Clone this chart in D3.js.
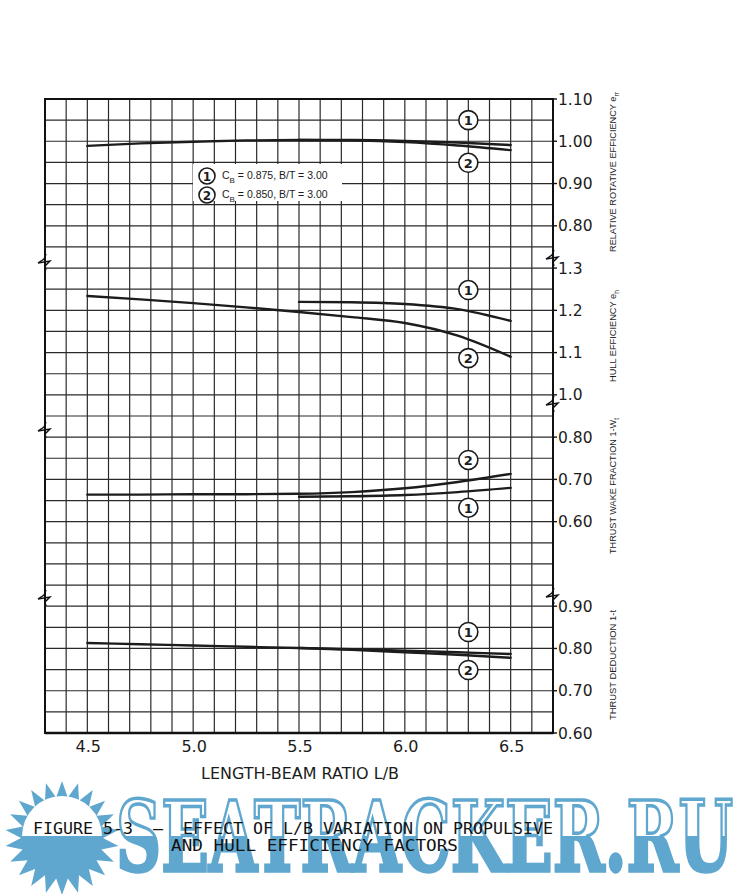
<!DOCTYPE html>
<html><head><meta charset="utf-8">
<script src="https://cdn.jsdelivr.net/npm/d3@7"></script>
<style>body{margin:0;background:#fff}svg{display:block}</style>
</head><body><svg id="c" width="750" height="894"></svg>
<script>
// ---------------- data ----------------
const lbTicks = [4.5, 5.0, 5.5, 6.0, 6.5];
const rreTicks = [1.10, 1.00, 0.90, 0.80];
const hullTicks = [1.3, 1.2, 1.1, 1.0];
const wakeTicks = [0.80, 0.70, 0.60];
const tdTicks = [0.90, 0.80, 0.70, 0.60];

const lbFull = [4.5, 4.75, 5.0, 5.25, 5.5, 5.75, 6.0, 6.25, 6.5];
const lbUpper = [5.5, 5.75, 6.0, 6.25, 6.5];

const rreCurve1 = [0.989, 0.995, 0.999, 1.002, 1.003, 1.003, 1.001, 0.997, 0.991]; // lbFull
const rreCurve2 = [1.003, 1.002, 0.998, 0.990, 0.979];                             // lbUpper
const hullCurve1 = [1.220, 1.219, 1.215, 1.203, 1.175];                            // lbUpper
const hullCurve2 = [1.234, 1.226, 1.217, 1.207, 1.196, 1.184, 1.170, 1.140, 1.090]; // lbFull
const wakeCurve1 = [0.659, 0.660, 0.663, 0.670, 0.680];                            // lbUpper
const wakeCurve2 = [0.664, 0.664, 0.665, 0.665, 0.666, 0.670, 0.679, 0.694, 0.713]; // lbFull
const tdCurve1 = [0.813, 0.810, 0.807, 0.804, 0.801, 0.798, 0.795, 0.791, 0.787];   // lbFull
const tdCurve2 = [0.801, 0.797, 0.791, 0.785, 0.778];                              // lbUpper

const labelLB = 6.3;
const rreLabels = [1.050, 0.949];   // circle 1, circle 2
const hullLabels = [1.248, 1.087];
const wakeLabels = [0.633, 0.746];
const tdLabels = [0.839, 0.749];

const legendCB = ["0.875", "0.850"];
const legendBT = ["3.00", "3.00"];

// ---------------- layout ----------------
const X0 = 45, X1 = 553, Y0 = 99, Y1 = 733;
const svg = d3.select("#c");
svg.append("rect").attr("width", 750).attr("height", 894).attr("fill", "#fff");

const x = d3.scaleLinear().domain([4.3, 6.7]).range([X0, X1]);
const k = d3.scaleLinear().domain([0, 30]).range([Y0, Y1]);

function panel(lo, hi, k0, k1) {
  return d3.scaleLinear().domain([lo, hi]).range([k(k1), k(k0)]);
}
const panels = [
  {s: panel(0.725, 1.10, 0, 7.5),  ticks: rreTicks,  fmt: d3.format(".2f"),
   title: "RELATIVE ROTATIVE EFFICIENCY e", sub: "rr", tc: 172, tl: 160,
   curves: [[lbFull, rreCurve1], [lbUpper, rreCurve2]], labels: rreLabels},
  {s: panel(0.975, 1.325, 7.5, 14.5), ticks: hullTicks, fmt: d3.format(".1f"),
   title: "HULL EFFICIENCY e", sub: "h", tc: 336, tl: 92,
   curves: [[lbUpper, hullCurve1], [lbFull, hullCurve2]], labels: hullLabels},
  {s: panel(0.425, 0.875, 14.5, 23.5), ticks: wakeTicks, fmt: d3.format(".2f"),
   title: "THRUST WAKE FRACTION 1-W", sub: "t", tc: 486, tl: 136,
   curves: [[lbUpper, wakeCurve1], [lbFull, wakeCurve2]], labels: wakeLabels},
  {s: panel(0.60, 0.925, 23.5, 30), ticks: tdTicks, fmt: d3.format(".2f"),
   title: "THRUST DEDUCTION 1-t", sub: "", tc: 665, tl: 110,
   curves: [[lbFull, tdCurve1], [lbUpper, tdCurve2]], labels: tdLabels}
];

const ink = "#1c1c1c";
const grid = svg.append("g").attr("stroke", "#2a2a2a").attr("stroke-width", 1.2);

// vertical grid
grid.selectAll(".v").data(x.ticks(24)).join("line")
  .attr("x1", d => x(d)).attr("x2", d => x(d)).attr("y1", Y0).attr("y2", Y1);

// horizontal grid per panel
panels.forEach(p => {
  const [lo, hi] = p.s.domain();
  grid.selectAll(null).data(d3.ticks(lo, hi, Math.round((hi - lo) / 0.05))).join("line")
    .attr("x1", X0).attr("x2", X1).attr("y1", d => p.s(d)).attr("y2", d => p.s(d));
});

// legend box (white, interrupts grid)
const lg = svg.append("g");
lg.append("rect").attr("x", 193).attr("y", 164).attr("width", 149).attr("height", 37).attr("fill", "#fff");
legendCB.forEach((cb, i) => {
  const yy = 176 + i * 19;
  lg.append("circle").attr("cx", 207).attr("cy", yy).attr("r", 8)
    .attr("fill", "#fff").attr("stroke", ink).attr("stroke-width", 1.6);
  lg.append("text").attr("x", 207).attr("y", yy + 4.5).attr("text-anchor", "middle")
    .attr("font-family", "DejaVu Sans").attr("font-weight", "bold").attr("font-size", 12)
    .attr("fill", ink).text(i + 1);
  const t = lg.append("text").attr("x", 222).attr("y", yy + 3).attr("font-family", "Liberation Sans")
    .attr("font-size", 10.5).attr("fill", ink);
  t.append("tspan").text("C");
  t.append("tspan").attr("dy", 3.5).attr("font-size", 8).text("B");
  t.append("tspan").attr("dy", -3.5).text(` = ${cb}, B/T = ${legendBT[i]}`);
});

// frame
svg.append("rect").attr("x", X0).attr("y", Y0).attr("width", X1 - X0).attr("height", Y1 - Y0)
  .attr("fill", "none").attr("stroke", "#111").attr("stroke-width", 2);
svg.append("line").attr("x1", X0).attr("x2", X1).attr("y1", Y1).attr("y2", Y1)
  .attr("stroke", "#111").attr("stroke-width", 2.6);

// break marks
const breakL = [262, 430, 598], breakR = [258, 404, 596];
const zig = (cx, cy) => `M${cx + 1},${cy - 8} L${cx - 1},${cy - 3} L${cx - 7},${cy + 1} L${cx + 5},${cy - 1} L${cx},${cy + 4} L${cx + 1},${cy + 8}`;
breakL.forEach(yv => svg.append("path").attr("d", zig(X0, yv)).attr("fill", "none").attr("stroke", "#111").attr("stroke-width", 1.4));
breakR.forEach(yv => svg.append("path").attr("d", zig(X1, yv)).attr("fill", "none").attr("stroke", "#111").attr("stroke-width", 1.4));

// curves, labels, axes
const line = s => d3.line().x(d => x(d[0])).y(d => s(d[1])).curve(d3.curveMonotoneX);
panels.forEach(p => {
  p.curves.forEach(([xs, ys]) => {
    svg.append("path").datum(d3.zip(xs, ys)).attr("d", line(p.s))
      .attr("fill", "none").attr("stroke", ink).attr("stroke-width", 2.4).attr("stroke-linecap", "round");
  });
  p.labels.forEach((v, i) => {
    svg.append("circle").attr("cx", x(labelLB)).attr("cy", p.s(v)).attr("r", 9.5)
      .attr("fill", "#fff").attr("stroke", ink).attr("stroke-width", 1.6);
    svg.append("text").attr("x", x(labelLB)).attr("y", p.s(v) + 5).attr("text-anchor", "middle")
      .attr("font-family", "DejaVu Sans").attr("font-weight", "bold").attr("font-size", 13)
      .attr("fill", ink).text(i + 1);
  });
  // right axis
  const ax = svg.append("g");
  ax.selectAll("line").data(p.ticks).join("line")
    .attr("x1", X1).attr("x2", X1 + 4).attr("y1", d => p.s(d)).attr("y2", d => p.s(d))
    .attr("stroke", "#111").attr("stroke-width", 1.4);
  ax.selectAll("text").data(p.ticks).join("text")
    .attr("x", X1 + 5).attr("y", d => p.s(d) + 5.5)
    .attr("font-family", "DejaVu Sans").attr("font-size", 15.5).attr("fill", ink)
    .text(p.fmt);
  // axis title (vertical)
  const t = svg.append("text").attr("transform", `translate(616,${p.tc}) rotate(-90)`)
    .attr("text-anchor", "middle").attr("font-family", "Liberation Sans").attr("font-size", 9.5)
    .attr("fill", ink).attr("textLength", p.tl).attr("lengthAdjust", "spacingAndGlyphs");
  t.append("tspan").text(p.title);
  if (p.sub) t.append("tspan").attr("dy", 3).attr("font-size", 7).text(p.sub);
});

// x axis labels
svg.append("g").selectAll("text").data(lbTicks).join("text")
  .attr("x", d => x(d) + 1).attr("y", 752).attr("text-anchor", "middle")
  .attr("font-family", "DejaVu Sans").attr("font-size", 16).attr("fill", ink)
  .text(d3.format(".1f"));
svg.append("text").attr("x", 300).attr("y", 779).attr("text-anchor", "middle")
  .attr("font-family", "DejaVu Sans").attr("font-size", 15).attr("fill", ink)
  .attr("textLength", 198).attr("lengthAdjust", "spacingAndGlyphs")
  .text("LENGTH-BEAM RATIO L/B");

// ---------------- watermark ----------------
const blue = "#5fa7cf";
const sunC = [62, 838];
const nSp = 22;
const sunPts = d3.range(2 * nSp).map(i => {
  const a = i * Math.PI / nSp - Math.PI / 2, r = i % 2 ? 41 : 57;
  return [sunC[0] + r * Math.cos(a), sunC[1] + r * Math.sin(a)];
});
svg.append("path").attr("d", "M" + sunPts.join("L") + "Z").attr("fill", blue);
svg.append("path").attr("d", `M${sunC[0] - 40},${sunC[1] - 2} A40,40 0 0 1 ${sunC[0] + 40},${sunC[1] - 2} Z`).attr("fill", "#fff");

svg.append("clipPath").attr("id", "lowHalf").append("rect").attr("x", 0).attr("y", 836).attr("width", 750).attr("height", 60);
const wm = (g) => g.attr("x", 0).attr("y", 0).attr("font-family", "DejaVu Serif").attr("font-weight", "bold")
  .attr("font-size", 62).attr("textLength", 617).attr("lengthAdjust", "spacingAndGlyphs")
  .attr("transform", "translate(116,871) scale(1,1.56)").text("SEATRACKER.RU");
svg.append("g").append("text").call(wm).attr("fill", "#fff").attr("stroke", blue).attr("stroke-width", 2.2);
svg.append("g").attr("clip-path", "url(#lowHalf)").append("text").call(wm).attr("fill", blue);

// caption
svg.append("text").attr("x", 33).attr("y", 834).attr("font-family", "DejaVu Sans Mono").attr("font-size", 15)
  .attr("fill", "#111").attr("textLength", 520).attr("lengthAdjust", "spacingAndGlyphs")
  .style("white-space", "pre")
  .text("FIGURE 5-3  \u2013  EFFECT OF L/B VARIATION ON PROPULSIVE");
svg.append("text").attr("x", 171).attr("y", 851).attr("font-family", "DejaVu Sans Mono").attr("font-size", 15)
  .attr("fill", "#111").attr("textLength", 287).attr("lengthAdjust", "spacingAndGlyphs")
  .text("AND HULL EFFICIENCY FACTORS");
</script></body></html>
